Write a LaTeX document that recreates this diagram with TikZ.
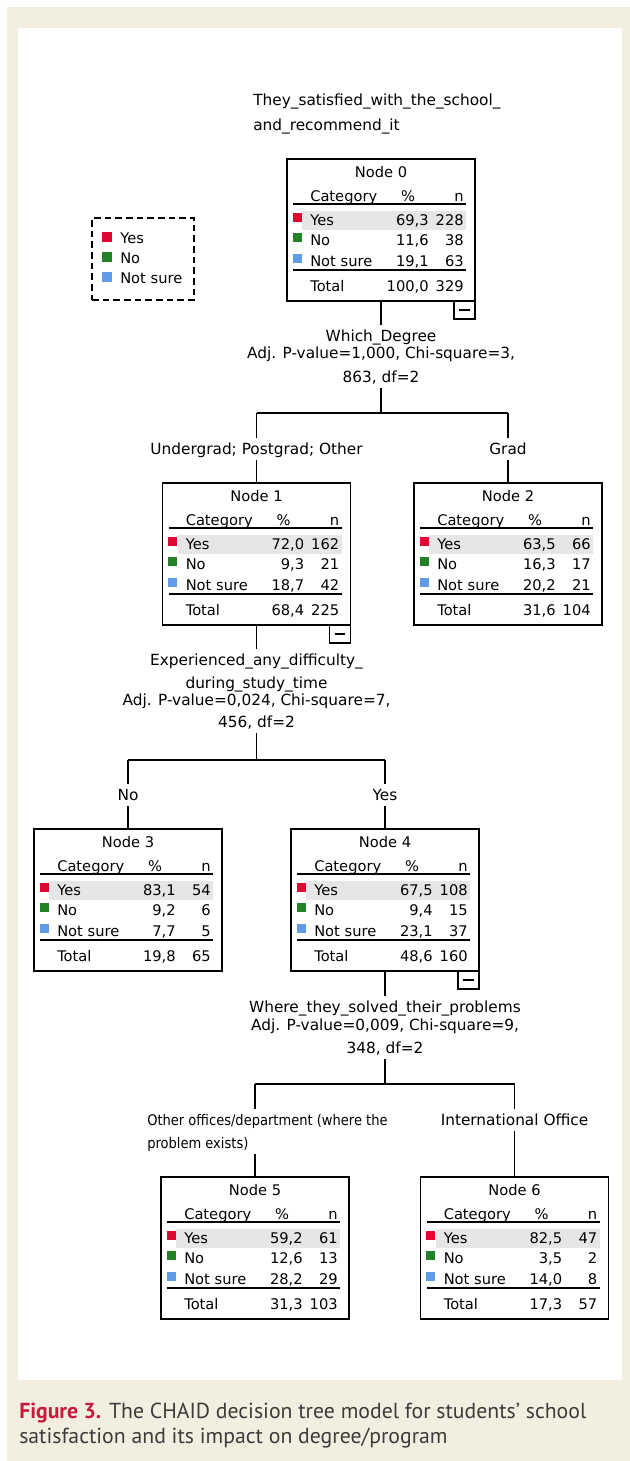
\documentclass[tikz,border=0pt]{standalone}
\usepackage{fontspec}
\setmainfont{DejaVu Sans}
\newfontfamily\spss{DejaVu Sans}
\newfontfamily\capfont{PT Sans}
\usetikzlibrary{calc,positioning}

\definecolor{yescol}{RGB}{220,10,50}
\definecolor{nocol}{RGB}{35,130,40}
\definecolor{surecol}{RGB}{95,155,230}
\definecolor{rowgray}{RGB}{230,230,230}
\definecolor{pagebeige}{RGB}{242,239,224}
\definecolor{figred}{RGB}{200,25,60}
\definecolor{captext}{RGB}{60,60,60}

\tikzset{
  treebox/.style={draw, line width=1.1pt, anchor=north, minimum width=141pt, minimum height=106.5pt, inner sep=0pt, outer sep=0pt},
  boxtext/.style={font=\fontsize{11pt}{13pt}\selectfont\spss, inner sep=0pt, text height=8pt, text depth=0pt},
  lbl/.style={boxtext, font=\fontsize{11.5pt}{13pt}\selectfont\spss, inner ysep=4.25pt},
  narrowlbl/.style={lbl, font=\fontsize{11pt}{13pt}\selectfont\spss, anchor=west},
  tablerule/.style={line width=1.1pt},
  wire/.style={line width=1.1pt},
  minusbox/.style={draw, line width=1.1pt, anchor=north east, minimum width=15.75pt, minimum height=13.5pt, inner sep=0pt, outer sep=0pt},
  legendbox/.style={draw, line width=1.1pt, dash pattern=on 5pt off 3pt, anchor=north west, minimum width=76.5pt, minimum height=61.5pt, inner sep=0pt, outer sep=0pt},
  captext/.style={font=\fontsize{16.3pt}{19pt}\selectfont\capfont, text=captext, inner sep=0pt, anchor=west}
}

% header of a tree node: name, number
\newcommand{\nodehead}[2]{%
  \node[boxtext] (#1-title) at ($(#1.north)+(0,13)$) {Node #2};
  \node[boxtext, anchor=west] (#1-cat) at ($(#1.north west)+(23,37)$) {Category};
  \node[boxtext] (#1-pct) at ($(#1.north west)+(121,37)$) {\%};
  \node[boxtext, anchor=east] (#1-n) at ($(#1.north west)+(177,37)$) {n};
  \draw[tablerule] ($(#1.north west)+(6,45)$) -- ($(#1.north west)+(179,45)$);
  \draw[tablerule] ($(#1.north west)+(6,111)$) -- ($(#1.north west)+(179,111)$);
}
% rows of a tree node: name, then % and n for yes, no, not sure, total
\newcommand{\noderows}[9]{%
  \fill[rowgray] ($(#1.north west)+(15,52)$) rectangle ($(#1.north west)+(179,71)$);
  \foreach \cl/\dy in {yescol/61, nocol/81, surecol/102}
    \fill[\cl] ($(#1.north west)+(5.5,\dy-7.5)$) rectangle ++(9,9);
  \node[boxtext, anchor=west] (#1-yes) at ($(#1.north west)+(23,61)$) {Yes};
  \node[boxtext, anchor=east] (#1-yes-p) at ($(#1.north west)+(142,61)$) {#2};
  \node[boxtext, anchor=east] (#1-yes-n) at ($(#1.north west)+(177,61)$) {#3};
  \node[boxtext, anchor=west] (#1-no) at ($(#1.north west)+(23,81)$) {No};
  \node[boxtext, anchor=east] (#1-no-p) at ($(#1.north west)+(142,81)$) {#4};
  \node[boxtext, anchor=east] (#1-no-n) at ($(#1.north west)+(177,81)$) {#5};
  \node[boxtext, anchor=west] (#1-ns) at ($(#1.north west)+(23,102)$) {Not sure};
  \node[boxtext, anchor=east] (#1-ns-p) at ($(#1.north west)+(142,102)$) {#6};
  \node[boxtext, anchor=east] (#1-ns-n) at ($(#1.north west)+(177,102)$) {#7};
  \node[boxtext, anchor=west] (#1-tot) at ($(#1.north west)+(23,127)$) {Total};
  \node[boxtext, anchor=east] (#1-tot-p) at ($(#1.north west)+(142,127)$) {#8};
  \node[boxtext, anchor=east] (#1-tot-n) at ($(#1.north west)+(177,127)$) {#9};
}
\newcommand{\minusmark}[1]{%
  \node[minusbox] (#1-minus) at (#1.south east) {\rule{8pt}{0.8pt}};
}

\begin{document}
\begin{tikzpicture}[x=0.75pt, y=-0.75pt]
\useasboundingbox (0,0) rectangle (630,1461);
\fill[pagebeige] (7,7) rectangle (630,1461);
\fill[white] (18,28) rectangle (622,1380);

% legend
\node[legendbox] (legend) at (92,218) {};
\foreach \cl/\dy/\txt/\nm in {yescol/20/Yes/yes, nocol/40/No/no, surecol/60/Not sure/ns}{
  \fill[\cl] ($(legend.north west)+(10,\dy-6)$) rectangle ++(9.5,9.5);
  \node[boxtext, anchor=west] (leg-\nm) at ($(legend.north west)+(28,\dy)$) {\txt};
}

% tree nodes
\node[treebox] (n0) at (381,159) {};
\node[treebox] (n1) at (256.5,483) {};
\node[treebox] (n2) at (508,483) {};
\node[treebox] (n3) at (128,829) {};
\node[treebox] (n4) at (385,829) {};
\node[treebox] (n5) at (255,1177) {};
\node[treebox] (n6) at (514.5,1177) {};

\nodehead{n0}{0} \noderows{n0}{69,3}{228}{11,6}{38}{19,1}{63}{100,0}{329}
\nodehead{n1}{1} \noderows{n1}{72,0}{162}{9,3}{21}{18,7}{42}{68,4}{225}
\nodehead{n2}{2} \noderows{n2}{63,5}{66}{16,3}{17}{20,2}{21}{31,6}{104}
\nodehead{n3}{3} \noderows{n3}{83,1}{54}{9,2}{6}{7,7}{5}{19,8}{65}
\nodehead{n4}{4} \noderows{n4}{67,5}{108}{9,4}{15}{23,1}{37}{48,6}{160}
\nodehead{n5}{5} \noderows{n5}{59,2}{61}{12,6}{13}{28,2}{29}{31,3}{103}
\nodehead{n6}{6} \noderows{n6}{82,5}{47}{3,5}{2}{14,0}{8}{17,3}{57}
\minusmark{n0} \minusmark{n1} \minusmark{n4}

% target variable
\node[lbl, anchor=west] (target-a) at (253,100) {They\_satisfied\_with\_the\_school\_};
\node[lbl, anchor=west] (target-b) at (253,125) {and\_recommend\_it};

% split labels
\node[lbl] (s0a) at (381,336) {Which\_Degree};
\node[lbl] (s0b) at (381,353) {Adj. P-value=1,000, Chi-square=3,};
\node[lbl] (s0c) at (381,377) {863, df=2};
\node[lbl] (b1) at (256.5,449) {Undergrad; Postgrad; Other};
\node[lbl] (b2) at (508,449) {Grad};

\node[lbl] (s1a) at (256.5,660) {Experienced\_any\_difficulty\_};
\node[lbl] (s1b) at (256.5,683) {during\_study\_time};
\node[lbl] (s1c) at (256.5,700) {Adj. P-value=0,024, Chi-square=7,};
\node[lbl] (s1d) at (256.5,722) {456, df=2};
\node[lbl] (b3) at (128,795) {No};
\node[lbl] (b4) at (385,795) {Yes};

\node[lbl] (s4a) at (385,1007) {Where\_they\_solved\_their\_problems};
\node[lbl] (s4b) at (385,1025) {Adj. P-value=0,009, Chi-square=9,};
\node[lbl] (s4c) at (385,1048) {348, df=2};
\node[narrowlbl] (b5a) at (147,1120) {\scalebox{0.89}[1]{Other offices/department (where the}};
\node[narrowlbl] (b5b) at (147,1143) {\scalebox{0.89}[1]{problem exists)}};
\node[lbl] (b6) at (514.5,1120) {International Office};

% junctions
\coordinate (j0) at (n0.south |- 0,413);
\coordinate (j0l) at (n1.north |- j0);
\coordinate (j0r) at (n2.north |- j0);
\coordinate (j1) at (n1.south |- 0,760);
\coordinate (j1l) at (n3.north |- j1);
\coordinate (j1r) at (n4.north |- j1);
\coordinate (j4) at (n4.south |- 0,1084);
\coordinate (j4l) at (n5.north |- j4);
\coordinate (j4r) at (n6.north |- j4);

% connectors
\draw[wire] (n0.south) -- (s0a.north);
\draw[wire] (s0c.south) -- (j0);
\draw[wire] (j0l) -- (j0r);
\draw[wire] (j0l) -- (b1.north);
\draw[wire] (b1.south) -- (n1.north);
\draw[wire] (j0r) -- (b2.north);
\draw[wire] (b2.south) -- (n2.north);

\draw[wire] (n1.south) -- (s1a.north);
\draw[wire] (s1d.south) -- (j1);
\draw[wire] (j1l) -- (j1r);
\draw[wire] (j1l) -- (b3.north);
\draw[wire] (b3.south) -- (n3.north);
\draw[wire] (j1r) -- (b4.north);
\draw[wire] (b4.south) -- (n4.north);

\draw[wire] (n4.south) -- (s4a.north);
\draw[wire] (s4c.south) -- (j4);
\draw[wire] (j4l) -- (j4r);
\draw[wire] (j4l) -- (b5a.north -| j4l);
\draw[wire] (b5b.south -| j4l) -- (n5.north);
\draw[wire] (j4r) -- (b6.north);
\draw[wire] (b6.south) -- (n6.north);

% caption
\node[captext] (cap1) at (19,1413) {{\bfseries\color{figred}Figure 3.} The CHAID decision tree model for students’ school};
\node[captext] (cap2) at (19,1438) {satisfaction and its impact on degree/program};
\end{tikzpicture}
\end{document}
